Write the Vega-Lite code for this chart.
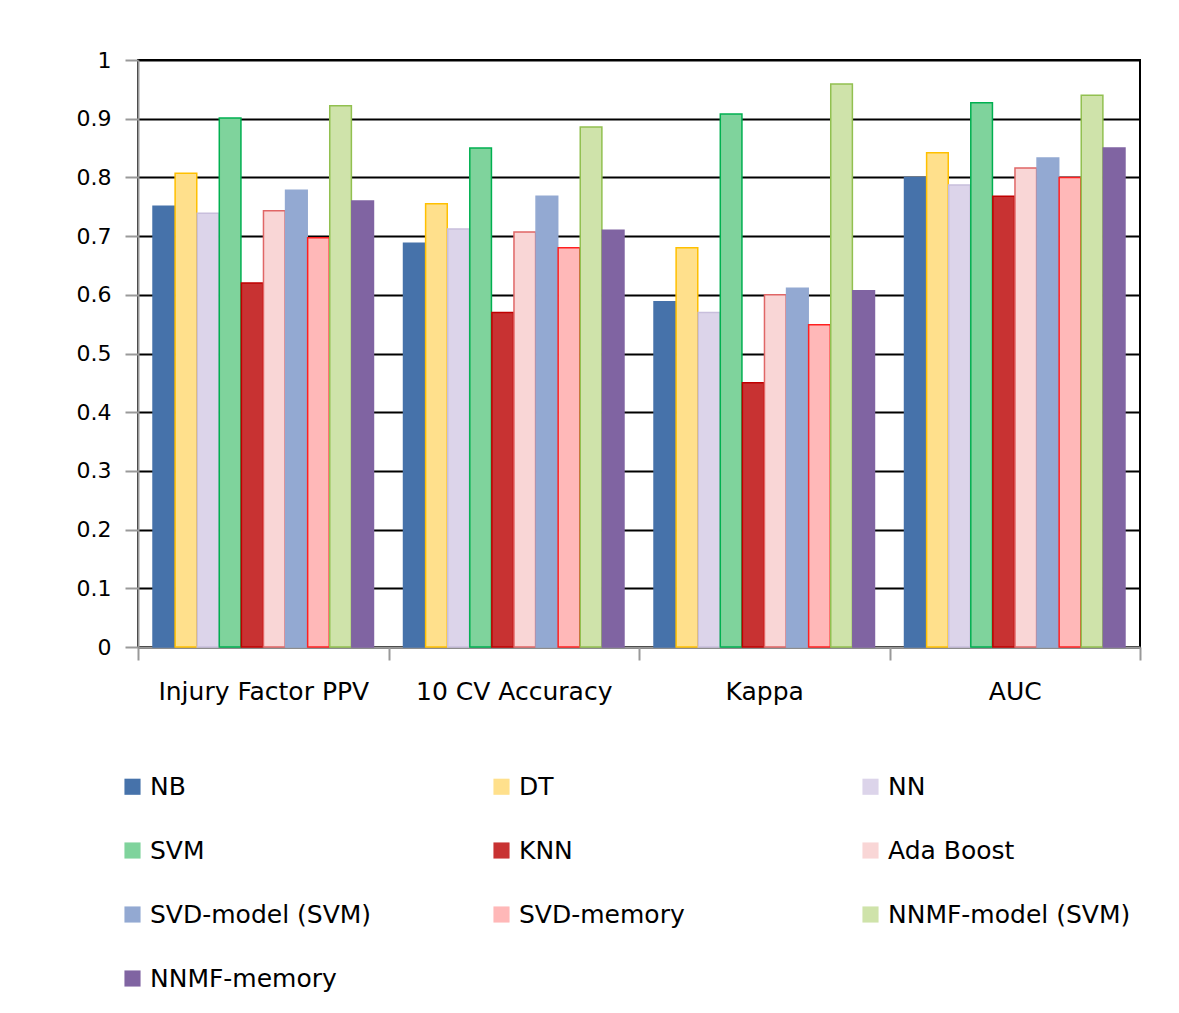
{
  "$schema": "https://vega.github.io/schema/vega-lite/v6.json",
  "autosize": "none",
  "width": 1002,
  "height": 587,
  "padding": {"left": 138, "top": 60, "right": 39, "bottom": 366},
  "background": "white",
  "config": {
    "view": {"stroke": "black", "strokeWidth": 2},
    "font": "DejaVu Sans"
  },
  "data": {
    "values": [
      {"metric": "Injury Factor PPV", "model": "NB", "value": 0.751},
      {"metric": "Injury Factor PPV", "model": "DT", "value": 0.807},
      {"metric": "Injury Factor PPV", "model": "NN", "value": 0.739},
      {"metric": "Injury Factor PPV", "model": "SVM", "value": 0.901},
      {"metric": "Injury Factor PPV", "model": "KNN", "value": 0.62},
      {"metric": "Injury Factor PPV", "model": "Ada Boost", "value": 0.743},
      {"metric": "Injury Factor PPV", "model": "SVD-model (SVM)", "value": 0.778},
      {"metric": "Injury Factor PPV", "model": "SVD-memory", "value": 0.697},
      {"metric": "Injury Factor PPV", "model": "NNMF-model (SVM)", "value": 0.922},
      {"metric": "Injury Factor PPV", "model": "NNMF-memory", "value": 0.76},
      {"metric": "10 CV Accuracy", "model": "NB", "value": 0.688},
      {"metric": "10 CV Accuracy", "model": "DT", "value": 0.755},
      {"metric": "10 CV Accuracy", "model": "NN", "value": 0.712},
      {"metric": "10 CV Accuracy", "model": "SVM", "value": 0.85},
      {"metric": "10 CV Accuracy", "model": "KNN", "value": 0.57},
      {"metric": "10 CV Accuracy", "model": "Ada Boost", "value": 0.707},
      {"metric": "10 CV Accuracy", "model": "SVD-model (SVM)", "value": 0.768},
      {"metric": "10 CV Accuracy", "model": "SVD-memory", "value": 0.68},
      {"metric": "10 CV Accuracy", "model": "NNMF-model (SVM)", "value": 0.886},
      {"metric": "10 CV Accuracy", "model": "NNMF-memory", "value": 0.71},
      {"metric": "Kappa", "model": "NB", "value": 0.588},
      {"metric": "Kappa", "model": "DT", "value": 0.68},
      {"metric": "Kappa", "model": "NN", "value": 0.57},
      {"metric": "Kappa", "model": "SVM", "value": 0.908},
      {"metric": "Kappa", "model": "KNN", "value": 0.45},
      {"metric": "Kappa", "model": "Ada Boost", "value": 0.6},
      {"metric": "Kappa", "model": "SVD-model (SVM)", "value": 0.611},
      {"metric": "Kappa", "model": "SVD-memory", "value": 0.549},
      {"metric": "Kappa", "model": "NNMF-model (SVM)", "value": 0.959},
      {"metric": "Kappa", "model": "NNMF-memory", "value": 0.607},
      {"metric": "AUC", "model": "NB", "value": 0.8},
      {"metric": "AUC", "model": "DT", "value": 0.842},
      {"metric": "AUC", "model": "NN", "value": 0.787},
      {"metric": "AUC", "model": "SVM", "value": 0.927},
      {"metric": "AUC", "model": "KNN", "value": 0.768},
      {"metric": "AUC", "model": "Ada Boost", "value": 0.816},
      {"metric": "AUC", "model": "SVD-model (SVM)", "value": 0.833},
      {"metric": "AUC", "model": "SVD-memory", "value": 0.8},
      {"metric": "AUC", "model": "NNMF-model (SVM)", "value": 0.94},
      {"metric": "AUC", "model": "NNMF-memory", "value": 0.85}
    ]
  },
  "mark": {"type": "bar", "strokeWidth": 1.5},
  "encoding": {
    "x": {
      "field": "metric",
      "type": "nominal",
      "sort": ["Injury Factor PPV", "10 CV Accuracy", "Kappa", "AUC"],
      "scale": {"paddingInner": 0, "paddingOuter": 0},
      "axis": {
        "title": null,
        "labelAngle": 0,
        "labelFontSize": 25,
        "labelLimit": 400,
        "labelColor": "black",
        "labelPadding": 19,
        "tickBand": "extent",
        "tickColor": "#999999",
        "tickSize": 13,
        "tickWidth": 2,
        "domainColor": "#999999",
        "domainWidth": 2,
        "grid": false
      }
    },
    "xOffset": {
      "field": "model",
      "type": "nominal",
      "sort": ["NB", "DT", "NN", "SVM", "KNN", "Ada Boost", "SVD-model (SVM)", "SVD-memory", "NNMF-model (SVM)", "NNMF-memory"],
      "scale": {"paddingInner": 0.02, "paddingOuter": 0.68}
    },
    "y": {
      "field": "value",
      "type": "quantitative",
      "scale": {"domain": [0, 1]},
      "axis": {
        "title": null,
        "tickCount": 10,
        "format": "~g",
        "labelFontSize": 22,
        "labelColor": "black",
        "labelPadding": 14,
        "gridColor": "black",
        "gridWidth": 2,
        "tickColor": "#999999",
        "tickSize": 13,
        "tickWidth": 2,
        "domainColor": "#999999",
        "domainWidth": 2
      }
    },
    "fill": {
      "field": "model",
      "type": "nominal",
      "sort": ["NB", "DT", "NN", "SVM", "KNN", "Ada Boost", "SVD-model (SVM)", "SVD-memory", "NNMF-model (SVM)", "NNMF-memory"],
      "scale": {
        "range": ["#4672AA", "#FFE08C", "#DCD4EA", "#7FD39C", "#C83232", "#F9D6D6", "#93A9D2", "#FFB8B8", "#CFE3AA", "#8064A2"]
      },
      "legend": {
        "title": null,
        "orient": "none",
        "legendX": -18,
        "legendY": 714,
        "direction": "horizontal",
        "columns": 3,
        "gridAlign": "all",
        "columnPadding": 96,
        "rowPadding": 38,
        "symbolType": "square",
        "symbolSize": 260,
        "symbolStrokeWidth": 0,
        "labelFontSize": 25,
        "labelLimit": 400,
        "labelColor": "black",
        "labelOffset": 5
      }
    },
    "stroke": {
      "field": "model",
      "type": "nominal",
      "sort": ["NB", "DT", "NN", "SVM", "KNN", "Ada Boost", "SVD-model (SVM)", "SVD-memory", "NNMF-model (SVM)", "NNMF-memory"],
      "scale": {
        "range": ["#4672AA", "#FFC000", "#C8BEDC", "#00B050", "#C00000", "#E06666", "#93A9D2", "#FF2020", "#92C050", "#8064A2"]
      },
      "legend": null
    }
  }
}
